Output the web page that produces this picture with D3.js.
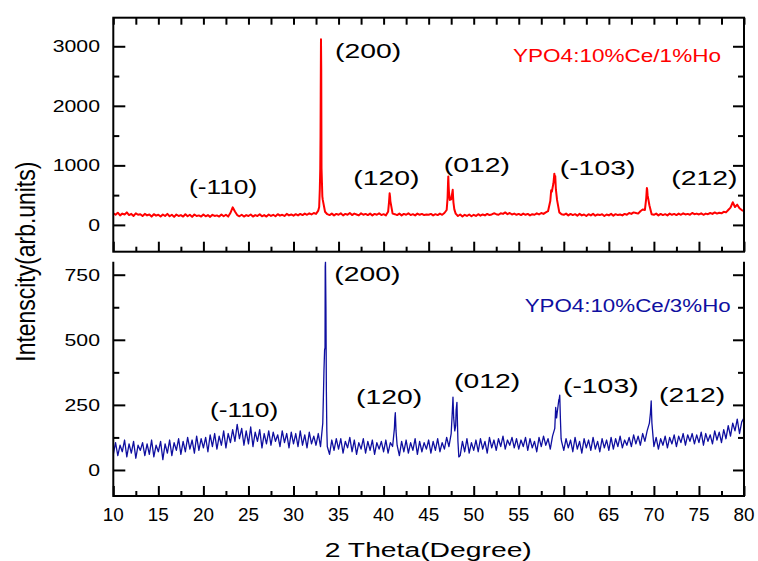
<!DOCTYPE html>
<html>
<head>
<meta charset="utf-8">
<script src="https://cdn.jsdelivr.net/npm/d3@7"></script>
<style>
  body { margin: 0; background: #fff; }
  text { font-family: "Liberation Sans", Arial, sans-serif; fill: #000; }
</style>
</head>
<body>
<svg id="chart" width="758" height="561"></svg>
<script>
// scan grid: 10..80 deg, 0.25 deg step, plus extra points on the sharp peaks
const thetaStart = 10, thetaStep = 0.25;

// YPO4:10%Ce/1%Ho (red, top panel)
const ce10ho1 = [
  195,170,205,160,190,175,210,165,185,150,195,170,180,150,185,160,175,140,180,155,
  170,140,175,150,185,145,170,135,175,150,165,140,180,145,170,135,175,150,160,140,
  175,145,165,135,170,150,160,140,175,145,170,140,200,295,225,165,145,170,140,165,
  150,175,140,165,150,180,145,165,140,175,150,170,145,180,155,170,150,185,160,175,
  155,180,160,185,165,190,170,195,175,200,185,240,1500,420,220,180,165,190,160,185,
  170,195,160,185,170,200,165,190,175,160,195,170,185,165,190,160,185,170,195,165,
  180,160,220,400,190,180,165,190,160,185,170,195,165,180,160,190,170,185,165,175,
  170,185,160,180,165,190,170,200,250,560,430,380,190,150,175,140,170,150,175,145,
  170,150,180,155,175,160,185,165,175,195,180,170,195,185,210,180,200,175,190,170,
  185,165,190,170,185,160,180,170,195,175,200,185,210,230,400,620,800,420,210,180,
  170,190,160,185,165,180,155,185,160,175,150,180,160,185,155,175,165,180,150,175,
  160,185,155,180,165,175,160,185,170,200,185,210,200,190,230,260,250,600,330,180,
  170,190,160,185,165,180,160,190,170,185,165,190,170,195,175,185,170,200,180,190,
  175,195,170,190,180,200,185,210,190,205,195,220,210,250,290,380,300,340,280,250,
  230
];
const ce10ho1Peaks = [
  [32.85,300],[32.92,600],[32.97,950],[33.02,2200],[33.05,3120],[33.08,2600],[33.11,950],[33.16,700],[33.2,480],
  [40.6,380],[40.67,530],[40.72,470],
  [47.1,450],[47.15,700],[47.18,815],[47.22,650],[47.35,420],[47.6,520],[47.67,590],[47.72,450],[47.85,260],
  [58.6,580],[58.68,560],[58.85,700],[58.95,860],[59.05,820],[59.12,600],
  [69.15,450],[69.22,620],[69.3,500]
];

// YPO4:10%Ce/3%Ho (blue, bottom panel)
const ce10ho3 = [
  60,105,55,95,70,115,50,100,65,110,45,95,75,105,55,100,60,115,50,95,
  70,110,40,100,65,115,55,105,75,120,60,110,70,125,80,115,65,130,75,120,
  85,125,70,135,90,140,80,130,95,150,85,140,105,155,110,175,120,160,95,150,
  100,165,90,145,110,155,85,140,100,150,95,145,110,135,90,150,105,140,85,145,
  100,140,90,150,95,135,85,145,100,130,95,140,90,180,470,90,60,115,75,120,
  80,120,65,110,85,125,70,115,60,105,80,120,65,110,75,115,60,105,80,110,
  70,115,65,105,90,200,95,55,110,70,115,65,105,75,120,60,110,70,105,80,
  115,65,110,75,120,70,105,80,125,90,140,230,170,110,55,110,70,120,65,105,
  75,115,70,120,80,110,65,125,85,115,75,120,90,130,80,115,95,125,85,120,
  80,115,90,125,75,120,85,110,70,125,90,130,95,120,80,130,160,215,275,110,
  75,120,85,115,70,125,80,110,65,120,85,115,75,125,80,110,70,120,85,115,
  75,125,80,120,90,130,85,115,95,125,90,135,100,130,95,140,110,150,180,210,
  90,125,80,120,95,130,85,125,100,135,90,130,105,140,95,135,110,140,100,135,
  105,145,95,140,110,135,100,150,115,145,105,155,120,170,130,180,150,195,140,185,
  200
];
const ce10ho3Peaks = [
  [33.33,300],[33.38,380],[33.45,460],[33.52,780],[33.55,800],[33.6,620],[33.65,300],[33.7,150],
  [41.2,160],[41.3,220],[41.38,150],
  [47.62,220],[47.7,280],[47.78,200],[47.9,150],[48.05,230],[48.14,260],[48.22,150],[48.35,50],
  [59.1,240],[59.2,200],[59.45,270],[59.55,287],[59.62,200],[59.7,120],
  [69.62,220],[69.7,265],[69.78,180],[69.9,130]
];

const xMajor = [10,15,20,25,30,35,40,45,50,55,60,65,70,75,80];
const xMinor = [12.5,17.5,22.5,27.5,32.5,37.5,42.5,47.5,52.5,57.5,62.5,67.5,72.5,77.5];
const topMajor = [0,1000,2000,3000], topMinor = [500,1500,2500];
const botMajor = [0,250,500,750], botMinor = [125,375,625];

// peak labels: [text, theta where text starts, intensity at baseline]
const topLabels = [["(-110)",18.4,515],["(200)",34.6,2800],["(120)",36.64,666],["(012)",46.67,889],["(-103)",59.55,834],["(212)",71.93,666]];
const botLabels = [["(-110)",20.73,205],["(200)",34.53,726],["(120)",36.94,252],["(012)",47.81,316],["(-103)",59.91,297],["(212)",70.57,262]];

const red = "#ff0000", blue = "#0f0fa0";

function series(vals, peaks) {
  let pts = vals.map((v, i) => [thetaStart + i * thetaStep, v]);
  return pts.concat(peaks).sort((a, b) => a[0] - b[0]);
}

const svg = d3.select("#chart");
const left = 113.3, right = 744;
const x = d3.scaleLinear().domain([10, 80]).range([left, right]);
const yTop = d3.scaleLinear().domain([-450, 3480]).range([251.7, 17.7]);
const yBot = d3.scaleLinear().domain([-100, 800]).range([496, 261.7]);

function clip(id, y) {
  svg.append("clipPath").attr("id", id).append("rect")
    .attr("x", left).attr("y", y.range()[1])
    .attr("width", right - left).attr("height", y.range()[0] - y.range()[1]);
}
clip("clipTop", yTop);
clip("clipBot", yBot);

function drawLine(data, y, color, w, clipId) {
  svg.append("path")
    .datum(data)
    .attr("clip-path", "url(#" + clipId + ")")
    .attr("fill", "none")
    .attr("stroke", color)
    .attr("stroke-width", w)
    .attr("stroke-linejoin", "round")
    .attr("d", d3.line().x(d => x(d[0])).y(d => y(d[1])));
}
drawLine(series(ce10ho1, ce10ho1Peaks), yTop, red, 2, "clipTop");
drawLine(series(ce10ho3, ce10ho3Peaks), yBot, blue, 1.3, "clipBot");

// ticks, all pointing into the panels
function ticks(axis, scale, vals, size, tx, ty) {
  let g = svg.append("g").attr("transform", "translate(" + tx + "," + ty + ")")
    .call(axis(scale).tickValues(vals).tickSize(size).tickFormat(""));
  g.select(".domain").remove();
  g.selectAll("line").attr("stroke", "#000").attr("stroke-width", 2);
}
// top panel
ticks(d3.axisLeft, yTop, topMajor, -12, left, 0);
ticks(d3.axisLeft, yTop, topMinor, -6, left, 0);
ticks(d3.axisRight, yTop, topMajor, -11, right, 0);
ticks(d3.axisRight, yTop, topMinor, -6, right, 0);
ticks(d3.axisTop, x, xMajor.concat(xMinor), -7, 0, 17.7);
ticks(d3.axisBottom, x, xMajor, -10, 0, 251.7);
ticks(d3.axisBottom, x, xMinor, -5, 0, 251.7);
// bottom panel
ticks(d3.axisLeft, yBot, botMajor, -12, left, 0);
ticks(d3.axisLeft, yBot, botMinor, -6, left, 0);
ticks(d3.axisRight, yBot, botMajor, -11, right, 0);
ticks(d3.axisRight, yBot, botMinor, -6, right, 0);
ticks(d3.axisBottom, x, xMajor, -10, 0, 496);
ticks(d3.axisBottom, x, xMinor, -5, 0, 496);

// frames
svg.append("rect").attr("x", left).attr("y", 17.7)
  .attr("width", right - left).attr("height", 251.7 - 17.7)
  .attr("fill", "none").attr("stroke", "#000").attr("stroke-width", 2);
svg.append("path")
  .attr("d", "M" + left + ",261.7V496H" + right + "V261.7")
  .attr("fill", "none").attr("stroke", "#000").attr("stroke-width", 2);

// tick labels
function yLabels(y, vals) {
  svg.append("g").selectAll("text").data(vals).join("text")
    .attr("transform", d => "translate(100," + (y(d) + 6) + ") scale(1.25,1)")
    .attr("text-anchor", "end")
    .attr("font-size", 17)
    .text(d => d);
}
yLabels(yTop, topMajor);
yLabels(yBot, botMajor);

svg.append("g").selectAll("text").data(xMajor).join("text")
  .attr("transform", d => "translate(" + x(d) + ",521) scale(1.08,1)")
  .attr("text-anchor", "middle")
  .attr("font-size", 17.5)
  .text(d => d);

// axis titles
svg.append("text")
  .attr("x", 428.3).attr("y", 557.3)
  .attr("text-anchor", "middle")
  .attr("font-size", 20.5)
  .attr("textLength", 207).attr("lengthAdjust", "spacingAndGlyphs")
  .text("2 Theta(Degree)");
svg.append("text")
  .attr("transform", "translate(34.5,261.7) rotate(-90) scale(1,1.25)")
  .attr("text-anchor", "middle")
  .attr("font-size", 22)
  .attr("textLength", 200).attr("lengthAdjust", "spacingAndGlyphs")
  .text("Intenscity(arb.units)");

// sample names
svg.append("text")
  .attr("x", 513).attr("y", 62.3)
  .attr("font-size", 18)
  .attr("textLength", 208).attr("lengthAdjust", "spacingAndGlyphs")
  .style("fill", red)
  .text("YPO4:10%Ce/1%Ho");
svg.append("text")
  .attr("x", 524.7).attr("y", 312)
  .attr("font-size", 18)
  .attr("textLength", 206).attr("lengthAdjust", "spacingAndGlyphs")
  .style("fill", blue)
  .text("YPO4:10%Ce/3%Ho");

// peak indices
function peakLabels(y, labels) {
  svg.append("g").selectAll("text").data(labels).join("text")
    .attr("transform", d => "translate(" + x(d[1]) + "," + y(d[2]) + ") scale(1.35,1)")
    .attr("font-size", d => d[0] == "(-110)" ? 19.5 : 21)
    .text(d => d[0]);
}
peakLabels(yTop, topLabels);
peakLabels(yBot, botLabels);
</script>
</body>
</html>
